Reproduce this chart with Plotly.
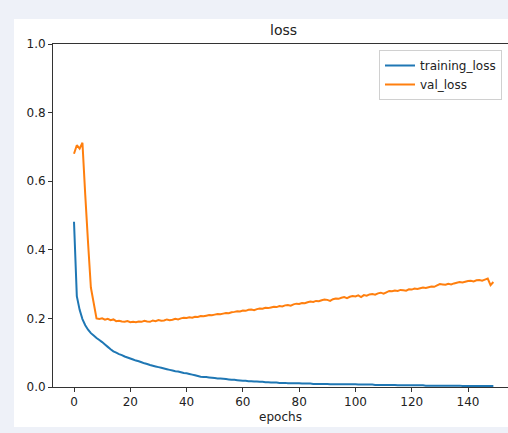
import plotly.graph_objects as go

epochs = list(range(150))

training_loss = [
    0.482, 0.265, 0.225, 0.198, 0.180, 0.167, 0.157, 0.150, 0.143, 0.137,
    0.131, 0.124, 0.117, 0.110, 0.104, 0.100, 0.096, 0.093, 0.089, 0.086,
    0.083, 0.080, 0.077, 0.075, 0.072, 0.069, 0.067, 0.064, 0.062, 0.060,
    0.058, 0.056, 0.054, 0.052, 0.050, 0.048, 0.046, 0.045, 0.043, 0.041,
    0.040, 0.038, 0.036, 0.034, 0.032, 0.030, 0.029, 0.029, 0.028, 0.027,
    0.026, 0.025, 0.025, 0.024, 0.023, 0.022, 0.021, 0.021, 0.020, 0.019,
    0.018, 0.018, 0.017, 0.017, 0.016, 0.016, 0.015, 0.015, 0.014, 0.014,
    0.013, 0.013, 0.013, 0.012, 0.012, 0.012, 0.011, 0.011, 0.011, 0.011,
    0.011, 0.010, 0.010, 0.010, 0.010, 0.009, 0.009, 0.009, 0.009, 0.009,
    0.009, 0.008, 0.008, 0.008, 0.008, 0.008, 0.008, 0.008, 0.008, 0.008,
    0.008, 0.007, 0.007, 0.007, 0.007, 0.007, 0.007, 0.006, 0.006, 0.006,
    0.006, 0.006, 0.006, 0.006, 0.006, 0.005, 0.005, 0.005, 0.005, 0.005,
    0.005, 0.005, 0.005, 0.005, 0.005, 0.004, 0.004, 0.004, 0.004, 0.004,
    0.004, 0.004, 0.004, 0.004, 0.004, 0.004, 0.004, 0.004, 0.003, 0.003,
    0.003, 0.003, 0.003, 0.003, 0.003, 0.003, 0.003, 0.003, 0.003, 0.003,
]

val_loss = [
    0.680, 0.705, 0.695, 0.712, 0.560, 0.420, 0.290, 0.245, 0.200, 0.198,
    0.200, 0.196, 0.199, 0.195, 0.197, 0.192, 0.193, 0.191, 0.190, 0.192,
    0.189, 0.190, 0.189, 0.191, 0.190, 0.193, 0.191, 0.190, 0.194, 0.192,
    0.195, 0.193, 0.194, 0.197, 0.195, 0.196, 0.199, 0.197, 0.200, 0.202,
    0.201, 0.203, 0.202, 0.205, 0.204, 0.207, 0.206, 0.208, 0.210, 0.209,
    0.211, 0.213, 0.212, 0.214, 0.216, 0.215, 0.218, 0.219, 0.221, 0.220,
    0.223, 0.222, 0.225, 0.226, 0.224, 0.227, 0.229, 0.228, 0.231, 0.230,
    0.232, 0.234, 0.233, 0.236, 0.235, 0.238, 0.239, 0.237, 0.241, 0.243,
    0.242, 0.245, 0.244, 0.247, 0.249, 0.248, 0.251, 0.250, 0.253, 0.255,
    0.254, 0.251, 0.256, 0.258, 0.257, 0.260, 0.262, 0.259, 0.263, 0.265,
    0.264, 0.267, 0.262, 0.268, 0.266, 0.270, 0.271, 0.269, 0.273, 0.275,
    0.272, 0.276, 0.280, 0.279, 0.281, 0.280, 0.283, 0.282, 0.281, 0.285,
    0.284, 0.287, 0.286, 0.288, 0.290, 0.289, 0.291, 0.293, 0.292, 0.296,
    0.300, 0.299, 0.298, 0.301, 0.299, 0.302, 0.304, 0.306, 0.305, 0.307,
    0.309, 0.310, 0.308, 0.311, 0.312, 0.310, 0.313, 0.316, 0.297, 0.306,
]

x_ticks = [0, 20, 40, 60, 80, 100, 120, 140]
y_ticks = [0.0, 0.2, 0.4, 0.6, 0.8, 1.0]

FONT = "DejaVu Sans"
AX = "#333333"

fig = go.Figure()
fig.add_trace(go.Scatter(x=epochs, y=training_loss, mode="lines", name="training_loss",
                         line=dict(color="#1f77b4", width=2, simplify=False)))
fig.add_trace(go.Scatter(x=epochs, y=val_loss, mode="lines", name="val_loss",
                         line=dict(color="#ff7f0e", width=2, simplify=False)))

W, H = 508, 433
L, R, T, B = 53, 0, 44, 46
pw = W - L - R
ph = H - T - B

fig.update_layout(
    width=W, height=H,
    margin=dict(l=L, r=R, t=T, b=B, pad=0),
    paper_bgcolor="#eef1f8",
    plot_bgcolor="white",
    font=dict(family=FONT, size=12, color="#222"),
    showlegend=True,
    legend=dict(x=(379 - L) / pw, y=(387 - 50) / ph, xanchor="left", yanchor="top",
                bgcolor="white", bordercolor="#d0d0d0", borderwidth=1,
                font=dict(family=FONT, size=12, color="#222"),
                tracegroupgap=0, itemwidth=30),
    xaxis=dict(range=[-7.46, 154.2], tickvals=x_ticks, ticks="outside", ticklen=4,
               tickcolor=AX, showline=True, linecolor=AX, linewidth=1, mirror=True,
               showgrid=False, zeroline=False,
               title=dict(text="epochs", font=dict(family=FONT, size=12, color="#222"), standoff=4),
               tickfont=dict(family=FONT, size=12, color="#222")),
    yaxis=dict(range=[0, 1], tickvals=y_ticks, tickformat=".1f", ticks="outside", ticklen=4,
               tickcolor=AX, showline=True, linecolor=AX, linewidth=1, mirror=False,
               showgrid=False, zeroline=False,
               tickfont=dict(family=FONT, size=12, color="#222")),
    shapes=[dict(type="rect", xref="paper", yref="paper", layer="below",
                 x0=(14 - L) / pw, x1=1.01, y0=(387 - 427) / ph, y1=(387 - 19) / ph,
                 fillcolor="white", line=dict(width=0))],
    annotations=[dict(text="loss", xref="paper", yref="paper", x=(283.5 - L) / pw, y=1,
                      xanchor="center", yanchor="bottom", yshift=4, showarrow=False,
                      font=dict(family=FONT, size=14, color="#222"))],
)

fig.write_html("out.html",
               config={"displayModeBar": False},
               post_script="document.body.style.margin='0';document.body.style.overflow='hidden';")
